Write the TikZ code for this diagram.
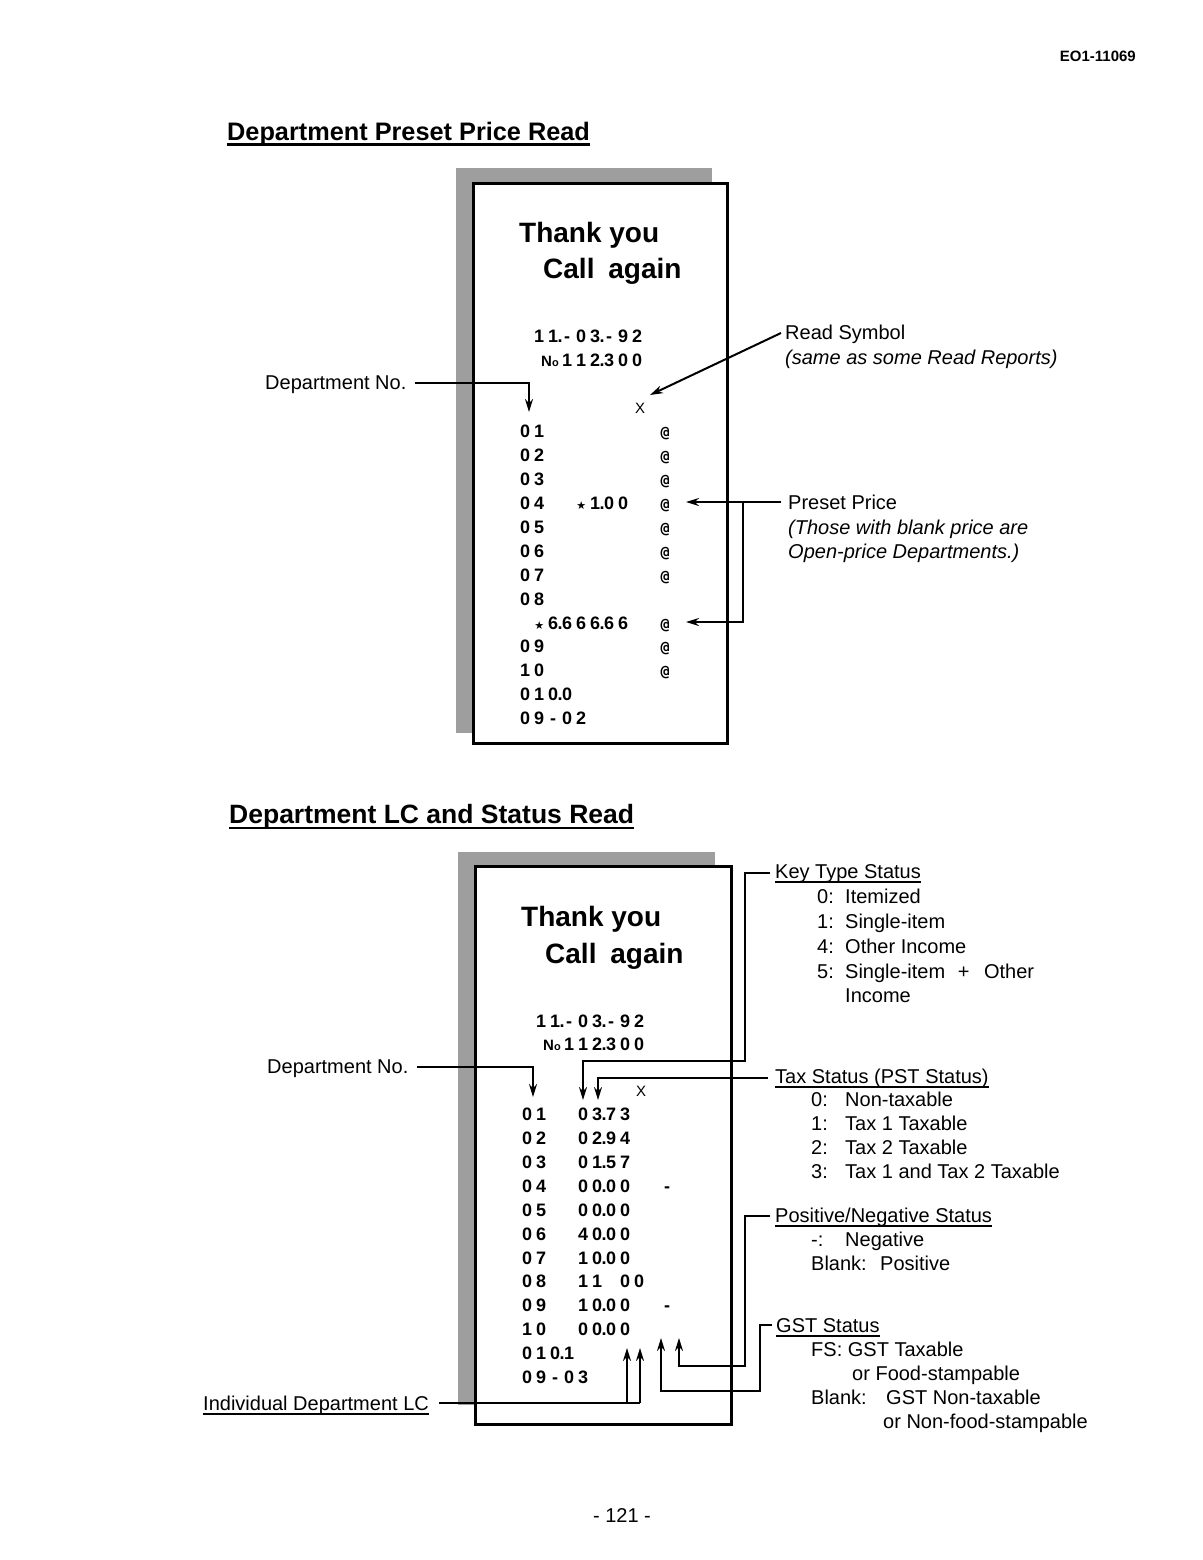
\documentclass[tikz,border=0pt]{standalone}
\usepackage{fontspec}
\setmainfont{Liberation Sans}
\newfontfamily\monof{DejaVu Sans Mono}
\newfontfamily\djv{DejaVu Sans}
\usetikzlibrary{arrows.meta}
\newsavebox\ulbox
\newcommand\ulx[3]{\sbox\ulbox{#3}\rlap{\rule[#1]{\wd\ulbox}{#2}}\usebox\ulbox}
\newlength\rcw
\setlength\rcw{14pt}
\makeatletter
\newcommand\rc[1]{{\bfseries\fontsize{18}{18}\selectfont\rc@#1\@nil}}
\def\rc@#1{\ifx\@nil#1\else\rc@@{#1}\expandafter\rc@\fi}
\def\rc@@#1{%
  \if .#1\makebox[0pt]{.}\else
  \if _#1\hspace*{\rcw}\else
  \if *#1\makebox[\rcw]{\djv\mdseries\fontsize{11}{11}\selectfont ★}\else
  \if @#1\makebox[\rcw]{\monof\bfseries\fontsize{15}{15}\selectfont @}\else
  \makebox[\rcw]{#1}\fi\fi\fi\fi}
\makeatother
\newcommand\nosym{{\bfseries\fontsize{15}{15}\selectfont N\fontsize{11}{11}\selectfont o}}
\begin{document}
\begin{tikzpicture}[x=1pt,y=-1pt,
  lbl/.style={anchor=base west, inner sep=0pt, font=\fontsize{20}{24}\selectfont},
  lbli/.style={lbl, font=\fontsize{20}{24}\selectfont\itshape},
  head/.style={anchor=base west, inner sep=0pt},
  ty/.style={anchor=base west, inner sep=0pt, font=\fontsize{28}{32}\selectfont\bfseries},
  row/.style={anchor=base west, inner sep=0pt},
  conn/.style={line width=2pt},
  arr/.style={conn, -{Stealth[length=13pt,width=8pt]}},
  receipt/.style={draw, line width=2.5pt, fill=white, inner sep=0pt, anchor=north west},
  shade/.style={fill=black!38}]
\useasboundingbox[fill=white] (0,0) rectangle (1202,1560);

% header
\node[anchor=base east, inner sep=0pt, font=\fontsize{15}{15}\selectfont\bfseries] (hdr) at (1136,62) {EO1-11069};

% ===== Section 1 =====
\node[head, font=\fontsize{25.3}{30}\selectfont\bfseries] (h1) at (227,140) {\ulx{-6pt}{2.5pt}{Department Preset Price Read}};

\fill[shade] (456,168) rectangle (712,182);
\fill[shade] (456,168) rectangle (472,733);
\node[receipt, minimum width=254pt, minimum height=560pt] (r1) at (472,182) {};

\node[ty] (ty1) at (519,242) {Thank you};
\node[ty] (ca1) at (543,278) {Call\hspace{6pt} again};

\node[row] (d1) at (518,342.5) {\rc{_11.-03.-92}};
\node[row] (no1) at (541,366) {\nosym};
\node[row] (n1) at (518,366) {\rc{___112.300}};
\node[anchor=base, inner sep=0pt, font=\fontsize{15}{15}\selectfont] (x1) at (640,413) {X};

\node[row] (t01) at (518,437.5) {\rc{01________@}};
\node[row] (t02) at (518,461.5) {\rc{02________@}};
\node[row] (t03) at (518,485.5) {\rc{03________@}};
\node[row] (t04) at (518,509.5) {\rc{04__*1.00__@}};
\node[row] (t05) at (518,533.5) {\rc{05________@}};
\node[row] (t06) at (518,557.5) {\rc{06________@}};
\node[row] (t07) at (518,581.5) {\rc{07________@}};
\node[row] (t08) at (518,605.5) {\rc{08}};
\node[row] (t08b) at (518,629.5) {\rc{_*6.666.66__@}};
\node[row] (t09) at (518,652.5) {\rc{09________@}};
\node[row] (t10) at (518,676.5) {\rc{10________@}};
\node[row] (ttot) at (518,700.5) {\rc{010.0}};
\node[row] (tend) at (518,724.5) {\rc{09-02}};

\node[lbl] (dep1) at (265,389) {Department No.};
\node[lbl] (rs1) at (785,339) {Read Symbol};
\node[lbli] (rs2) at (785,364) {(same as some Read Reports)};
\node[lbl] (pp1) at (788,509) {Preset Price};
\node[lbli] (pp2) at (788,534) {(Those with blank price are};
\node[lbli] (pp3) at (788,558) {Open-price Departments.)};

\coordinate (a1) at (529,412);
\coordinate (a2) at (650,395);
\coordinate (a3) at (686,502);
\coordinate (ppB) at (743,502);
\coordinate (a4) at (686,622);
\draw[arr] ([xshift=8pt,yshift=6pt]dep1.base east) -| (a1);
\draw[arr] ([xshift=-4pt,yshift=6pt]rs1.base west) -- (a2);
\draw[arr] ([xshift=-7pt,yshift=7pt]pp1.base west) -- (a3);
\draw[arr] (ppB) |- (a4);

% ===== Section 2 =====
\node[head, font=\fontsize{26.5}{30}\selectfont\bfseries] (h2) at (229,823) {\ulx{-6pt}{2.5pt}{Department LC and Status Read}};

\fill[shade] (458,852) rectangle (715,865);
\fill[shade] (458,852) rectangle (474,1405);
\node[receipt, minimum width=256pt, minimum height=558pt] (r2) at (474,865) {};

\node[ty] (ty2) at (521,926) {Thank you};
\node[ty] (ca2) at (545,963) {Call\hspace{6pt} again};

\node[row] (d2) at (520,1027.5) {\rc{_11.-03.-92}};
\node[row] (no2) at (543,1050.5) {\nosym};
\node[row] (n2) at (520,1050.5) {\rc{___112.300}};
\node[anchor=base, inner sep=0pt, font=\fontsize{15}{15}\selectfont] (x2) at (641,1096) {X};

\node[row] (b01) at (520,1120.5) {\rc{01__03.73}};
\node[row] (b02) at (520,1144.5) {\rc{02__02.94}};
\node[row] (b03) at (520,1168.5) {\rc{03__01.57}};
\node[row] (b04) at (520,1192.5) {\rc{04__00.00__-}};
\node[row] (b05) at (520,1216.5) {\rc{05__00.00}};
\node[row] (b06) at (520,1240.5) {\rc{06__40.00}};
\node[row] (b07) at (520,1264.5) {\rc{07__10.00}};
\node[row] (b08) at (520,1287.5) {\rc{08__11_00}};
\node[row] (b09) at (520,1311.5) {\rc{09__10.00__-}};
\node[row] (b10) at (520,1335.5) {\rc{10__00.00}};
\node[row] (btot) at (520,1359.5) {\rc{010.1}};
\node[row] (bend) at (520,1383.5) {\rc{09-03}};

\node[lbl] (dep2) at (267,1073) {Department No.};
\node[lbl] (idlc) at (203,1410) {\ulx{-4.5pt}{1.5pt}{Individual Department LC}};

\node[lbl] (kts) at (775,878) {\ulx{-4.5pt}{1.5pt}{Key Type Status}};
\node[lbl] (k0n) at (817,903) {0:};
\node[lbl] (k0t) at (845,903) {Itemized};
\node[lbl] (k1n) at (817,928) {1:};
\node[lbl] (k1t) at (845,928) {Single-item};
\node[lbl] (k4n) at (817,953) {4:};
\node[lbl] (k4t) at (845,953) {Other Income};
\node[lbl] (k5n) at (817,978) {5:};
\node[lbl] (k5t) at (845,978) {Single-item\hspace{7pt} +\hspace{9pt} Other};
\node[lbl] (k5u) at (845,1002) {Income};

\node[lbl] (tax) at (775,1083) {\ulx{-4.5pt}{1.5pt}{Tax Status (PST Status)}};
\node[lbl] (t0n) at (811,1106) {0:};
\node[lbl] (t0t) at (845,1106) {Non-taxable};
\node[lbl] (t1n) at (811,1130) {1:};
\node[lbl] (t1t) at (845,1130) {Tax 1 Taxable};
\node[lbl] (t2n) at (811,1154) {2:};
\node[lbl] (t2t) at (845,1154) {Tax 2 Taxable};
\node[lbl] (t3n) at (811,1178) {3:};
\node[lbl] (t3t) at (845,1178) {Tax 1 and Tax 2 Taxable};

\node[lbl] (pn) at (775,1222) {\ulx{-4.5pt}{1.5pt}{Positive/Negative Status}};
\node[lbl] (pnn) at (811,1246) {-:};
\node[lbl] (pnt) at (845,1246) {Negative};
\node[lbl] (pbn) at (811,1270) {Blank:};
\node[lbl] (pbt) at (880,1270) {Positive};

\node[lbl] (gst) at (776,1332) {\ulx{-4.5pt}{1.5pt}{GST Status}};
\node[lbl] (g1) at (811,1356) {FS: GST Taxable};
\node[lbl] (g2) at (852,1380) {or Food-stampable};
\node[lbl] (g3n) at (811,1404) {Blank:};
\node[lbl] (g3t) at (886,1404) {GST Non-taxable};
\node[lbl] (g4) at (883,1428) {or Non-food-stampable};

\coordinate (b1) at (533,1097);
\coordinate (k1) at (745,1061);
\coordinate (k2) at (583,1100);
\coordinate (k3) at (598,1100);
\coordinate (k4) at (745,1366);
\coordinate (k5) at (679,1338);
\coordinate (k6) at (760,1391);
\coordinate (k7) at (661,1338);
\coordinate (k8) at (640,1403);
\coordinate (k9) at (640,1348);
\coordinate (k10) at (627,1403);
\coordinate (k11) at (627,1348);

\draw[arr] ([xshift=8pt,yshift=6pt]dep2.base east) -| (b1);
\draw[arr] ([xshift=-5pt,yshift=5pt]kts.base west) -| (k1) -| (k2);
\draw[arr] ([xshift=-7pt,yshift=5pt]tax.base west) -| (k3);
\draw[arr] ([xshift=-5pt,yshift=6pt]pn.base west) -| (k4) -| (k5);
\draw[arr] ([xshift=-4pt,yshift=7pt]gst.base west) -| (k6) -| (k7);
\draw[conn] ([xshift=10pt,yshift=7pt]idlc.base east) -- (k8);
\draw[arr] (k8) -- (k9);
\draw[arr] (k10) -- (k11);

% page number
\node[anchor=base, inner sep=0pt, font=\fontsize{20}{24}\selectfont] (pg) at (622,1522) {- 121 -};
\end{tikzpicture}
\end{document}
